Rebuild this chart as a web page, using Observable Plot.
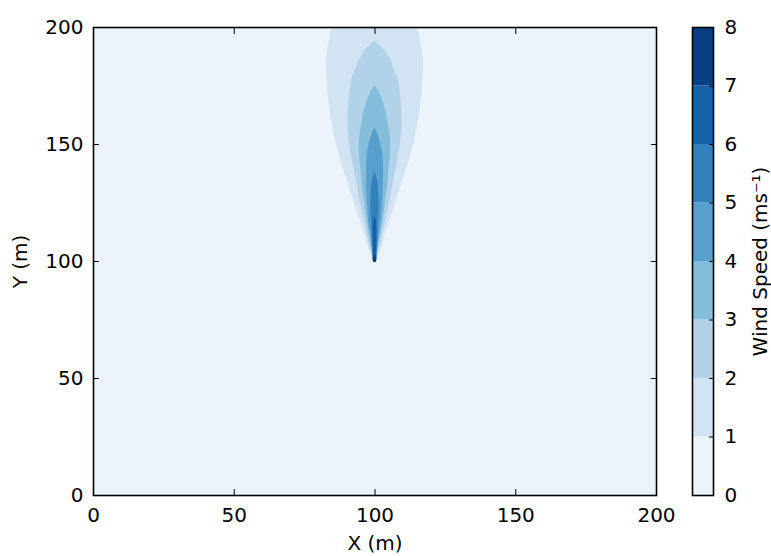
<!DOCTYPE html>
<html>
<head>
<meta charset="utf-8">
<script src="https://cdn.jsdelivr.net/npm/d3@7"></script>
<script src="https://cdn.jsdelivr.net/npm/@observablehq/plot@0.6"></script>
<style>
  html, body { margin: 0; padding: 0; background: #fff; }
  #wrap { position: relative; width: 771px; height: 556px; }
  #main, #cbar { position: absolute; top: 0; }
  #main { left: 0; }
  #cbar { left: 660px; }
</style>
</head>
<body>
<div id="wrap"><div id="main"></div><div id="cbar"></div></div>
<script>
// ---- data ----
const xTicks = [0, 50, 100, 150, 200];
const yTicks = [0, 50, 100, 150, 200];
const cbarTicks = [0, 1, 2, 3, 4, 5, 6, 7, 8];
const levelEdges = [0, 1, 2, 3, 4, 5, 6, 7, 8];
const plumeCenterX = 100;
const xLabel = "X (m)";
const yLabel = "Y (m)";
const cbarLabel = "Wind Speed (ms\u207B\u00B9)";

// contour bands: y positions and half-widths (m) of each filled level
const band1Y = [99.7, 103, 107, 113, 119, 126, 132, 137.6, 144, 151.7, 158, 165, 172, 180, 187, 194, 200, 206];
const band1W = [0.4, 1.4, 2.6, 4.0, 5.7, 7.6, 9.2, 10.7, 12.4, 14.0, 15.1, 16.0, 16.7, 17.1, 17.2, 16.2, 15.1, 13.0];
const band2Y = [99.7, 103, 107, 113, 119, 126, 132, 137.6, 144, 151.7, 158, 165.4, 172, 177.4, 181.6, 185.9, 190.2, 192, 194.2];
const band2W = [0.3, 1.0, 1.9, 3.0, 4.1, 5.3, 6.2, 7.1, 8.2, 9.2, 9.6, 9.4, 9.0, 8.3, 7.1, 5.6, 3.6, 2.0, 0];
const band3Y = [99.7, 103, 107, 113, 119, 126, 132, 137.6, 144, 151, 158, 165.4, 172.4, 175.2];
const band3W = [0.25, 0.7, 1.3, 2.2, 3.0, 3.8, 4.4, 4.9, 5.4, 5.6, 4.8, 3.6, 1.5, 0];
const band4Y = [99.7, 103, 107, 113, 119, 123.2, 131.8, 137.6, 143, 148, 152, 155, 157.1];
const band4W = [0.2, 0.6, 1.1, 1.8, 2.4, 2.6, 3.0, 3.0, 3.0, 2.5, 1.6, 0.9, 0];
const band5Y = [99.7, 103, 110, 118, 123.2, 128, 131.8, 135, 138.2];
const band5W = [0.2, 0.5, 0.9, 1.3, 1.5, 1.4, 1.2, 0.8, 0];
const band6Y = [99.7, 101, 105, 112, 117, 119.7];
const band6W = [0.5, 0.7, 0.7, 0.7, 0.5, 0];
const band7Y = [99.7, 100.5, 101.5, 102.5];
const band7W = [0.5, 0.6, 0.5, 0];

// ---- build tables ----
const bands = [
  [1, band1Y, band1W], [2, band2Y, band2W], [3, band3Y, band3W], [4, band4Y, band4W],
  [5, band5Y, band5W], [6, band6Y, band6W], [7, band7Y, band7W]
];
const contourRows = [];
for (const [lo, ys, ws] of bands) {
  ys.forEach((y, i) => contourRows.push({level: lo + 0.5, y, w: ws[i]}));
}
const background = [{level: levelEdges[0] + 0.5, x1: xTicks[0], x2: xTicks[xTicks.length - 1], y1: yTicks[0], y2: yTicks[yTicks.length - 1]}];
const cbarRows = levelEdges.slice(0, -1).map((lo, i) => ({lo, hi: levelEdges[i + 1], level: (lo + levelEdges[i + 1]) / 2}));

const colorScale = {type: "linear", scheme: "blues", domain: [levelEdges[0], levelEdges[levelEdges.length - 1]]};
const font = {fontFamily: "DejaVu Sans, sans-serif", fontSize: "20px", background: "transparent", overflow: "visible"};

const main = Plot.plot({
  width: 660, height: 556,
  marginLeft: 93, marginRight: 4, marginTop: 27, marginBottom: 61,
  style: font,
  x: {domain: [0, 200], ticks: xTicks},
  y: {domain: [0, 200], ticks: yTicks},
  color: colorScale,
  marks: [
    Plot.rect(background, {x1: "x1", x2: "x2", y1: "y1", y2: "y2", fill: "level"}),
    Plot.areaX(contourRows, {
      y: "y", x1: d => plumeCenterX - d.w, x2: d => plumeCenterX + d.w,
      fill: "level", z: "level", curve: "catmull-rom", clip: true
    }),
    Plot.axisX({ticks: xTicks, tickSize: -6, tickPadding: 18, label: null, stroke: "black", fill: "black"}),
    Plot.axisX({anchor: "top", ticks: xTicks, tickSize: -6, tickFormat: () => "", label: null, stroke: "black"}),
    Plot.axisY({ticks: yTicks, tickSize: -6, tickPadding: 16, label: null, stroke: "black", fill: "black"}),
    Plot.axisY({anchor: "right", ticks: yTicks, tickSize: -6, tickFormat: () => "", label: null, stroke: "black"}),
    Plot.frame({stroke: "black", strokeWidth: 1.6}),
    Plot.text([xLabel], {frameAnchor: "bottom", dy: 48, textAnchor: "middle", lineAnchor: "middle", fill: "black", fontSize: 20}),
    Plot.text([yLabel], {frameAnchor: "left", dx: -73, rotate: -90, textAnchor: "middle", lineAnchor: "middle", fill: "black", fontSize: 20})
  ]
});
document.getElementById("main").appendChild(main);

const cbar = Plot.plot({
  width: 111, height: 556,
  marginLeft: 32, marginRight: 58, marginTop: 27, marginBottom: 61,
  style: font,
  x: {domain: [0, 1], axis: null},
  y: {domain: [levelEdges[0], levelEdges[levelEdges.length - 1]], ticks: cbarTicks},
  color: colorScale,
  marks: [
    Plot.rect(cbarRows, {x1: 0, x2: 1, y1: "lo", y2: "hi", fill: "level"}),
    Plot.axisY({anchor: "right", ticks: cbarTicks, tickSize: -5, tickPadding: 16, label: null, stroke: "black", fill: "black"}),
    Plot.frame({stroke: "black", strokeWidth: 1.6}),
    Plot.text([cbarLabel], {frameAnchor: "right", dx: 47, rotate: -90, textAnchor: "middle", lineAnchor: "middle", fill: "black", fontSize: 20})
  ]
});
document.getElementById("cbar").appendChild(cbar);
</script>
</body>
</html>
